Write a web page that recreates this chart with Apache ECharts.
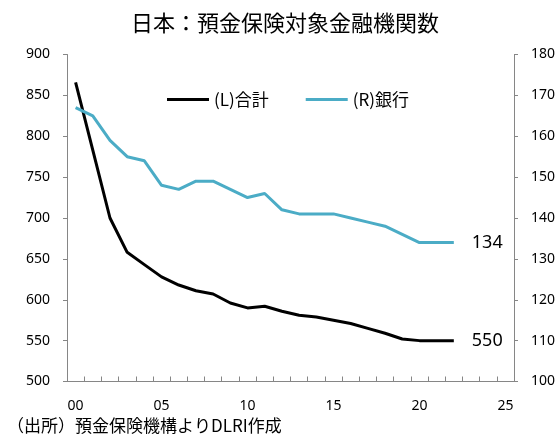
<!DOCTYPE html>
<html>
<head>
<meta charset="utf-8">
<script src="https://cdn.jsdelivr.net/npm/echarts@6/dist/echarts.min.js"></script>
<style>
html,body{margin:0;padding:0;background:#fff;}
#chart{width:559px;height:437px;}
</style>
</head>
<body>
<div id="chart"></div>
<script>
const titleText = '日本：預金保険対象金融機関数';
const sourceText = '（出所）預金保険機構よりDLRI作成';
const categories = ['00','01','02','03','04','05','06','07','08','09','10','11','12','13','14','15','16','17','18','19','20','21','22','23','24','25'];
const seriesNames = ['(L)合計', '(R)銀行'];
const totalValues = [866, 783, 700, 658, 643, 628, 618, 611, 607, 596, 590, 592, 586, 581, 579, 575, 571, 565, 559, 552, 550, 550, 550];
const bankValues = [167, 165, 159, 155, 154, 148, 147, 149, 149, 147, 145, 146, 142, 141, 141, 141, 140, 139, 138, 136, 134, 134, 134];
const leftAxis = {min: 500, max: 900, interval: 50};
const rightAxis = {min: 100, max: 180, interval: 10};

const axisGray = '#868686';
const numFont = 'Noto Sans';
const cjkFont = '"Noto Sans CJK JP", "Noto Sans", sans-serif';

const chart = echarts.init(document.getElementById('chart'), null, {renderer: 'canvas'});
chart.setOption({
  animation: false,
  backgroundColor: '#fff',
  title: [
    {
      text: titleText, left: 131, top: 12, padding: 0,
      textStyle: {fontSize: 22, fontWeight: 'normal', color: '#000', fontFamily: cjkFont}
    },
    {
      text: sourceText, left: 7, top: 417, padding: 0,
      textStyle: {fontSize: 17, fontWeight: 'normal', color: '#000', fontFamily: cjkFont}
    }
  ],
  legend: {
    data: seriesNames,
    left: 167, top: 91, padding: 0,
    icon: 'rect', itemWidth: 42, itemHeight: 3, itemGap: 37,
    textStyle: {fontSize: 17, color: '#000', fontFamily: cjkFont}
  },
  grid: {left: 67, right: 45, top: 54.5, bottom: 55.5, containLabel: false},
  xAxis: {
    type: 'category',
    data: categories,
    boundaryGap: true,
    axisLine: {lineStyle: {color: axisGray, width: 1}},
    axisTick: {show: true, inside: true, length: 5, interval: 0, lineStyle: {color: axisGray}},
    axisLabel: {interval: 4, margin: 18, fontSize: 14, color: '#000', fontFamily: numFont},
    splitLine: {show: false}
  },
  yAxis: [
    {
      type: 'value', position: 'left',
      min: leftAxis.min, max: leftAxis.max, interval: leftAxis.interval,
      axisLine: {show: true, lineStyle: {color: axisGray, width: 1}},
      axisTick: {show: true, inside: false, length: 4, lineStyle: {color: axisGray}},
      axisLabel: {margin: 17, fontSize: 14, color: '#000', fontFamily: numFont},
      splitLine: {show: false}
    },
    {
      type: 'value', position: 'right',
      min: rightAxis.min, max: rightAxis.max, interval: rightAxis.interval,
      axisLine: {show: true, lineStyle: {color: axisGray, width: 1}},
      axisTick: {show: true, inside: false, length: 4, lineStyle: {color: axisGray}},
      axisLabel: {margin: 17, fontSize: 14, color: '#000', fontFamily: numFont},
      splitLine: {show: false}
    }
  ],
  series: [
    {
      name: seriesNames[0], type: 'line', yAxisIndex: 0,
      data: totalValues, symbol: 'none',
      lineStyle: {color: '#000', width: 3},
      itemStyle: {color: '#000'},
      endLabel: {show: true, distance: 18, fontSize: 18, color: '#000', fontFamily: numFont,
        formatter: p => String(p.value)}
    },
    {
      name: seriesNames[1], type: 'line', yAxisIndex: 1,
      data: bankValues, symbol: 'none',
      lineStyle: {color: '#4BACC6', width: 3},
      itemStyle: {color: '#4BACC6'},
      endLabel: {show: true, distance: 18, fontSize: 18, color: '#000', fontFamily: numFont,
        formatter: p => String(p.value)}
    }
  ]
});
</script>
</body>
</html>
